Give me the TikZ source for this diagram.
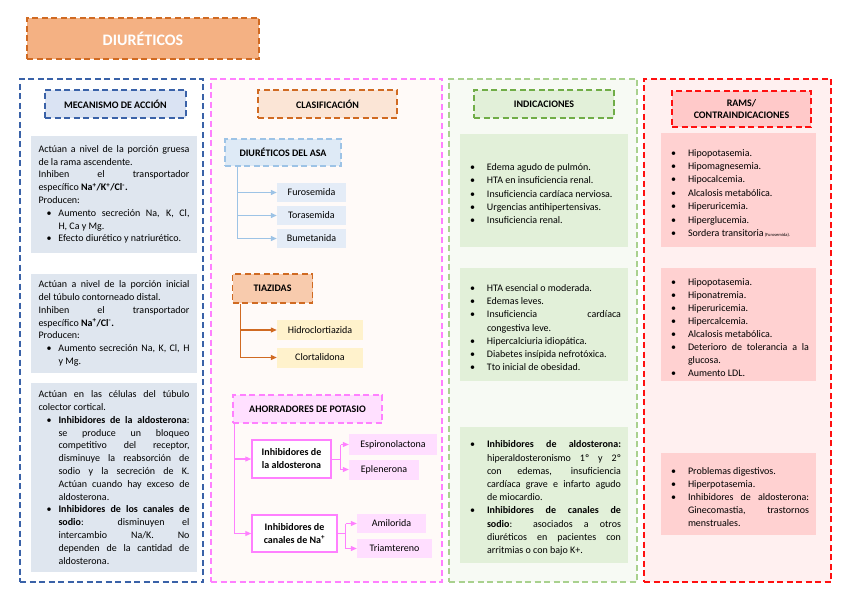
\documentclass[tikz,border=0pt]{standalone}
\usepackage{fontspec}
\setmainfont{Carlito}
\usetikzlibrary{arrows.meta}
\definecolor{tfill}{HTML}{F4B183}
\definecolor{odraw}{HTML}{D06A22}
\definecolor{blueD}{HTML}{3A62A8}
\definecolor{bhfill}{HTML}{DAE3F3}
\definecolor{bbox}{HTML}{DFE6EF}
\definecolor{pinkD}{HTML}{FF80FF}
\definecolor{c2fill}{HTML}{FFFAF8}
\definecolor{clfill}{HTML}{FBE5D6}
\definecolor{lblue}{HTML}{9DC3E6}
\definecolor{asafill}{HTML}{DEEAF6}
\definecolor{loopfill}{HTML}{E4ECF7}
\definecolor{tzfill}{HTML}{F8CBAD}
\definecolor{yfill}{HTML}{FFF2CC}
\definecolor{ahfill}{HTML}{FFE0FF}
\definecolor{pfill}{HTML}{FFDEFF}
\definecolor{greenL}{HTML}{A9D18E}
\definecolor{greenD}{HTML}{70AD47}
\definecolor{c3fill}{HTML}{F7FAF4}
\definecolor{gfill}{HTML}{E2F0D9}
\definecolor{redD}{HTML}{FF1010}
\definecolor{c4fill}{HTML}{FFF0F0}
\definecolor{rhfill}{HTML}{FFC9C9}
\definecolor{rfill}{HTML}{FFD1D1}
\newlength\bulind
\newlength\bulpos
\newcommand\itm{\par\noindent\hangindent=\bulind\hangafter=1\hbox to\bulind{\hskip\bulpos\textbullet\hfil}}
\tikzset{
  colbox/.style={draw, line width=1.7pt, dash pattern=on 6pt off 3.5pt},
  hdr/.style={draw, line width=1.7pt, dash pattern=on 6pt off 3.5pt, inner sep=0pt, align=center,
    font=\bfseries\fontsize{10}{12}\selectfont},
  txt/.style={inner xsep=7.5pt, inner ysep=0pt, align=justify,
    font=\fontsize{10}{12.8}\selectfont},
  small/.style={inner sep=0pt, font=\fontsize{10}{12}\selectfont},
  arr/.style={line width=1.2pt, -{Triangle[length=6pt,width=5pt]}},
}
\begin{document}
\begin{tikzpicture}[x=1pt,y=-1pt]
\useasboundingbox (0,0) rectangle (848,599);
% title
\node[draw=odraw, fill=tfill, line width=1.7pt, dash pattern=on 6pt off 3.5pt, minimum width=232pt, minimum height=41pt,
  text=white, font=\bfseries\fontsize{16}{18}\selectfont] (title) at (143,38.5) {DIURÉTICOS};
% columns
\node[colbox, draw=blueD, fill=white, minimum width=183pt, minimum height=503pt] (col1) at (111.5,330.5) {};
\node[colbox, draw=pinkD, fill=c2fill, minimum width=231pt, minimum height=503pt] (col2) at (326.5,330.5) {};
\node[colbox, draw=greenL, fill=c3fill, minimum width=188pt, minimum height=503pt] (col3) at (543,330.5) {};
\node[colbox, draw=redD, fill=c4fill, minimum width=187pt, minimum height=503pt] (col4) at (737.5,330.5) {};
% headers
\node[hdr, draw=blueD, fill=bhfill, minimum width=141pt, minimum height=28pt] (meca) at (115.5,104) {MECANISMO DE ACCIÓN};
\node[hdr, draw=odraw, fill=clfill, minimum width=139pt, minimum height=28pt] (clas) at (327.5,104) {CLASIFICACIÓN};
\node[hdr, draw=greenD, fill=gfill, minimum width=140pt, minimum height=28pt] (indi) at (544,104) {INDICACIONES};
\node[hdr, draw=redD, fill=rhfill, minimum width=139pt, minimum height=36pt] (rams) at (741.5,109) {RAMS/\\CONTRAINDICACIONES};
% column 1
\node[txt, fill=bbox, text width=151pt, minimum height=117pt] (m1) at (114,194.5) {%
\setlength\bulind{20pt}\setlength\bulpos{8pt}%
Actúan a nivel de la porción gruesa\linebreak de la rama ascendente.\par
Inhiben el transportador\linebreak específico \textbf{Na\textsuperscript{+}/K\textsuperscript{+}/Cl\textsuperscript{-}.}\par
Producen:
\itm Aumento secreción Na, K, Cl,\linebreak H, Ca y Mg.
\itm Efecto diurético y natriurético.\par};
\node[txt, fill=bbox, text width=151pt, minimum height=99pt] (m2) at (114,323.5) {%
\setlength\bulind{20pt}\setlength\bulpos{8pt}%
Actúan a nivel de la porción inicial\linebreak del túbulo contorneado distal.\par
Inhiben el transportador\linebreak específico \textbf{Na\textsuperscript{+}/Cl\textsuperscript{-}.}\par
Producen:
\itm Aumento secreción Na, K, Cl, H\linebreak y Mg.\par};
\node[txt, fill=bbox, text width=151pt, minimum height=189pt] (m3) at (114,477.5) {%
\setlength\bulind{20pt}\setlength\bulpos{8pt}%
Actúan en las células del túbulo\linebreak colector cortical.
\itm \textbf{Inhibidores de la aldosterona}:\linebreak se produce un bloqueo\linebreak competitivo del receptor,\linebreak disminuye la reabsorción de\linebreak sodio y la secreción de K.\linebreak Actúan cuando hay exceso de\linebreak aldosterona.
\itm \textbf{Inhibidores de los canales de\linebreak sodio}: disminuyen el\linebreak intercambio Na/K. No\linebreak dependen de la cantidad de\linebreak aldosterona.\par};
% column 2
\node[hdr, draw=lblue, fill=asafill, minimum width=116pt, minimum height=27pt] (asa) at (283,152.5) {DIURÉTICOS DEL ASA};
\node[small, fill=loopfill, minimum width=69pt, minimum height=19pt] (furo) at (311.5,192.5) {Furosemida};
\node[small, fill=loopfill, minimum width=69pt, minimum height=19pt] (tora) at (311.5,215.5) {Torasemida};
\node[small, fill=loopfill, minimum width=69pt, minimum height=19pt] (bume) at (311.5,238.5) {Bumetanida};
\draw[lblue, line width=1.2pt] (asa.south west) ++(13,0) coordinate (asaT) -- (asaT |- bume.west);
\foreach \n in {furo,tora,bume} \draw[arr, lblue] (asaT |- \n.west) -- (\n.west);

\node[hdr, draw=odraw, fill=tzfill, minimum width=80pt, minimum height=29pt] (tiaz) at (272.5,288.5) {TIAZIDAS};
\node[small, fill=yfill, minimum width=86pt, minimum height=20pt] (hidro) at (320,330) {Hidroclortiazida};
\node[small, fill=yfill, minimum width=86pt, minimum height=20pt] (clor) at (320,357.5) {Clortalidona};
\draw[odraw, line width=1.2pt] (tiaz.south west) ++(9,0) coordinate (tzT) -- (tzT |- clor.west);
\foreach \n in {hidro,clor} \draw[arr, odraw] (tzT |- \n.west) -- (\n.west);

\node[hdr, draw=pinkD, fill=ahfill, minimum width=149pt, minimum height=28pt] (ahor) at (307.5,409) {AHORRADORES DE POTASIO};
\node[draw=pinkD, line width=1.5pt, fill=white, minimum width=79pt, minimum height=38pt, inner sep=0pt, align=center,
  font=\bfseries\fontsize{10}{13}\selectfont] (inA) at (291.5,459) {Inhibidores de\\la aldosterona};
\node[draw=pinkD, line width=1.5pt, fill=white, minimum width=85pt, minimum height=37pt, inner sep=0pt, align=center,
  font=\bfseries\fontsize{10}{13}\selectfont] (inC) at (294.5,533.5) {Inhibidores de\\canales de Na\textsuperscript{+}};
\draw[pinkD, line width=1.2pt] (ahor.south west) ++(2,0) coordinate (ahT) -- (ahT |- inC.west);
\foreach \n in {inA,inC} \draw[arr, pinkD] (ahT |- \n.west) -- (\n.west);
\node[small, fill=pfill, minimum width=88pt, minimum height=21pt] (espi) at (393,444.5) {Espironolactona};
\node[small, fill=pfill, minimum width=70pt, minimum height=20pt] (eple) at (384,469.5) {Eplenerona};
\node[small, fill=pfill, minimum width=69pt, minimum height=19pt] (amil) at (391.5,523.5) {Amilorida};
\node[small, fill=pfill, minimum width=75pt, minimum height=19pt] (tria) at (394.5,548.5) {Triamtereno};
\draw[pinkD, line width=0.8pt] (inA.east) -- ++(9,0) coordinate (bA);
\draw[pinkD, line width=0.8pt] (bA |- espi.west) -- (bA |- eple.west);
\foreach \n in {espi,eple} \draw[arr, pinkD, line width=0.8pt] (bA |- \n.west) -- (\n.west);
\draw[pinkD, line width=0.8pt] (inC.east) -- ++(8,0) coordinate (bC);
\draw[pinkD, line width=0.8pt] (bC |- amil.west) -- (bC |- tria.west);
\foreach \n in {amil,tria} \draw[arr, pinkD, line width=0.8pt] (bC |- \n.west) -- (\n.west);
% column 3
\node[txt, inner xsep=7pt, fill=gfill, text width=154pt, minimum height=113pt, font=\fontsize{10}{13.2}\selectfont] (i1) at (544,190.5) {%
\setlength\bulind{20pt}\setlength\bulpos{3pt}%
\itm Edema agudo de pulmón.
\itm HTA en insuficiencia renal.
\itm Insuficiencia cardíaca nerviosa.
\itm Urgencias antihipertensivas.
\itm Insuficiencia renal.\par};
\node[txt, inner xsep=7pt, fill=gfill, text width=154pt, minimum height=113pt, font=\fontsize{10}{13.2}\selectfont] (i2) at (544,324.5) {%
\setlength\bulind{20pt}\setlength\bulpos{3pt}%
\itm HTA esencial o moderada.
\itm Edemas leves.
\itm Insuficiencia cardíaca\linebreak congestiva leve.
\itm Hipercalciuria idiopática.
\itm Diabetes insípida nefrotóxica.
\itm Tto inicial de obesidad.\par};
\node[txt, inner xsep=7pt, fill=gfill, text width=154pt, minimum height=136pt, font=\fontsize{10}{13.2}\selectfont] (i3) at (544,495) {%
\setlength\bulind{20pt}\setlength\bulpos{3pt}%
\itm \textbf{Inhibidores de aldosterona:}\linebreak hiperaldosteronismo 1º y 2º\linebreak con edemas, insuficiencia\linebreak cardíaca grave e infarto agudo\linebreak de miocardio.
\itm \textbf{Inhibidores de canales de\linebreak sodio}: asociados a otros\linebreak diuréticos en pacientes con\linebreak arritmias o con bajo K+.\par};
% column 4
\node[txt, inner xsep=7pt, fill=rfill, text width=141pt, minimum height=114pt, font=\fontsize{10}{13.4}\selectfont] (r1) at (738.5,190) {%
\setlength\bulind{20pt}\setlength\bulpos{3pt}%
\itm Hipopotasemia.
\itm Hipomagnesemia.
\itm Hipocalcemia.
\itm Alcalosis metabólica.
\itm Hiperuricemia.
\itm Hiperglucemia.
\itm Sordera transitoria{\fontsize{4.5}{5}\selectfont\ (Furosemida).}\par};
\node[txt, inner xsep=7pt, fill=rfill, text width=141pt, minimum height=113pt, font=\fontsize{10}{13.1}\selectfont] (r2) at (738.5,324.5) {%
\setlength\bulind{20pt}\setlength\bulpos{3pt}%
\itm Hipopotasemia.
\itm Hiponatremia.
\itm Hiperuricemia.
\itm Hipercalcemia.
\itm Alcalosis metabólica.
\itm Deterioro de tolerancia a la\linebreak glucosa.
\itm Aumento LDL.\par};
\node[txt, inner xsep=7pt, fill=rfill, text width=141pt, minimum height=82pt, font=\fontsize{10}{13.2}\selectfont] (r3) at (738.5,494) {%
\setlength\bulind{20pt}\setlength\bulpos{3pt}%
\itm Problemas digestivos.
\itm Hiperpotasemia.
\itm Inhibidores de aldosterona:\linebreak Ginecomastia, trastornos\linebreak menstruales.\par};
\end{tikzpicture}
\end{document}
